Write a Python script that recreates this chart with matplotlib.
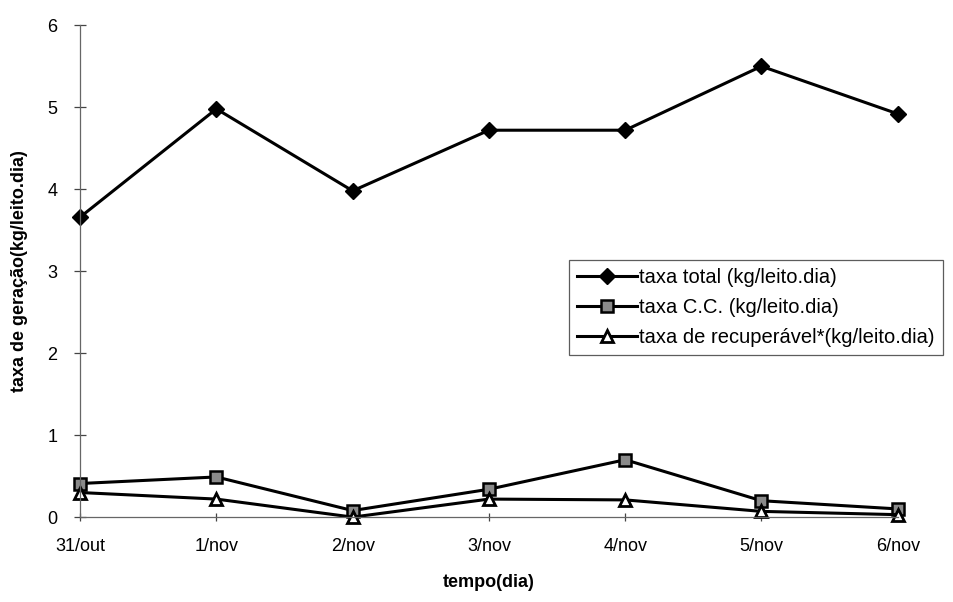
import matplotlib
matplotlib.use("Agg")
import matplotlib.pyplot as plt

plt.rcParams['font.family'] = ['Liberation Sans', 'DejaVu Sans']

dias = ["31/out", "1/nov", "2/nov", "3/nov", "4/nov", "5/nov", "6/nov"]
taxa_total = [3.66, 4.98, 3.98, 4.72, 4.72, 5.50, 4.92]
taxa_cc = [0.41, 0.49, 0.08, 0.34, 0.70, 0.20, 0.10]
taxa_recup = [0.30, 0.22, 0.00, 0.22, 0.21, 0.07, 0.03]

labels = ["taxa total (kg/leito.dia)",
          "taxa C.C. (kg/leito.dia)",
          "taxa de recuperável*(kg/leito.dia)"]

fig = plt.figure(figsize=(9.54, 6.02), dpi=100)
ax = fig.add_axes([0.084, 0.141, 0.857, 0.817])

x = range(len(dias))
ax.plot(x, taxa_total, color='black', lw=2.2, marker='D', markersize=8,
        markerfacecolor='black', markeredgecolor='black', label=labels[0],
        clip_on=False)
ax.plot(x, taxa_cc, color='black', lw=2.2, marker='s', markersize=9,
        markerfacecolor='#8a8a8a', markeredgecolor='black', markeredgewidth=1.8,
        label=labels[1], clip_on=False)
ax.plot(x, taxa_recup, color='black', lw=2.2, marker='^', markersize=9,
        markerfacecolor='white', markeredgecolor='black', markeredgewidth=2,
        label=labels[2], clip_on=False)

ax.set_xlim(0, 6)
ax.set_ylim(0, 6)
ax.set_xticks(list(x))
ax.set_xticklabels(dias)
ax.set_yticks(range(0, 7))

for s in ['top', 'right']:
    ax.spines[s].set_visible(False)
for s in ['left', 'bottom']:
    ax.spines[s].set_color('#666666')
    ax.spines[s].set_linewidth(0.9)

ax.tick_params(axis='y', direction='inout', length=9, width=0.9, color='#444444',
               labelsize=13, pad=12)
ax.tick_params(axis='x', direction='inout', length=6, width=0.9, color='#444444',
               labelsize=13, pad=12)

ax.set_xlabel("tempo(dia)", fontsize=13, fontweight='bold', labelpad=14)
ax.set_ylabel("taxa de geração(kg/leito.dia)", fontsize=13, fontweight='bold',
              labelpad=14)

leg = fig.legend(loc='upper left', bbox_to_anchor=(0.596, 0.568),
                 fontsize=14.5, frameon=True, fancybox=False, edgecolor='#333333',
                 handlelength=3.0, handletextpad=0.1, borderpad=0.4,
                 labelspacing=0.55, borderaxespad=0)
leg.get_frame().set_linewidth(0.9)

fig.savefig("out.png", dpi=100)
